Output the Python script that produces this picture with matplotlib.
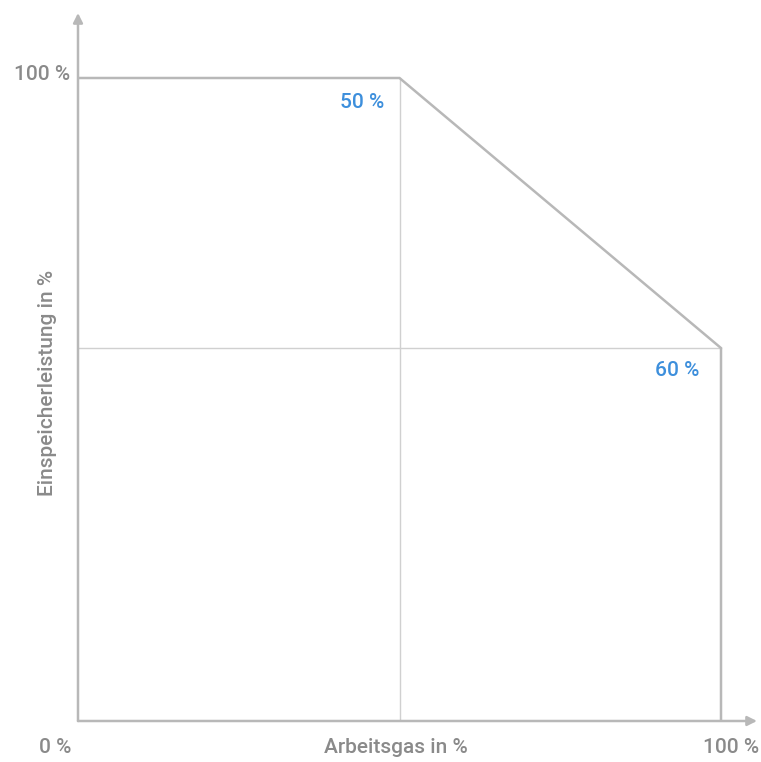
import matplotlib.pyplot as plt

plt.rcParams['font.family'] = ['Roboto', 'DejaVu Sans']

# curve: Arbeitsgas (%) vs Einspeicherleistung (%)
gas = [0, 50, 100, 100]
leistung = [100, 100, 58, 0]
knee_x = 50
knee_y = 58
lbl_50 = '50 %'
lbl_60 = '60 %'

grey = '#b8b8b8'
txt = '#8a8a8a'
blue = '#3d8fdc'

W, H = 761, 762
fig = plt.figure(figsize=(W/100, H/100), dpi=100)
x0, y0 = 78, 721           # origin in px
s = (721 - 78) / 100.0     # px per %
xe, ye = 757, 13           # arrow tips
ax = fig.add_axes([x0/W, (H-y0)/H, (xe-x0)/W, (y0-ye)/H])
ax.set_xlim(0, (xe-x0)/s)
ax.set_ylim(0, (y0-ye)/s)
ax.axis('off')

# axes with arrows
ax.annotate('', xy=((xe-x0)/s, 0), xytext=(0, 0),
            arrowprops=dict(arrowstyle='-|>', color=grey, lw=1.8, mutation_scale=14, shrinkA=0, shrinkB=0))
ax.annotate('', xy=(0, (y0-ye)/s), xytext=(0, 0),
            arrowprops=dict(arrowstyle='-|>', color=grey, lw=1.8, mutation_scale=14, shrinkA=0, shrinkB=0))

# helper lines
ax.plot([knee_x, knee_x], [0, 100], color='#d0d0d0', lw=1.0)
ax.plot([0, 100], [knee_y, knee_y], color='#d0d0d0', lw=1.0)

ax.plot(gas, leistung, color=grey, lw=1.8, solid_joinstyle='miter')

fs = 15
fw = 'medium'
ax.text(-1.3, 100.6, '100 %', ha='right', va='center', color=txt, fontsize=fs, fontweight=fw)
ax.text(-3.5, -4.1, '0 %', ha='center', va='center', color=txt, fontsize=fs, fontweight=fw)
ax.text(49.5, -4.1, 'Arbeitsgas in %', ha='center', va='center', color=txt, fontsize=fs, fontweight=fw)
ax.text(101.5, -4.1, '100 %', ha='center', va='center', color=txt, fontsize=fs, fontweight=fw, clip_on=False)
ax.text(-4.8, 52.5, 'Einspeicherleistung in %', ha='center', va='center', rotation=90, color=txt, fontsize=fs, fontweight=fw)
ax.text(47.7, 96.2, lbl_50, ha='right', va='center', color=blue, fontsize=fs, fontweight=fw)
ax.text(96.7, 54.5, lbl_60, ha='right', va='center', color=blue, fontsize=fs, fontweight=fw)

fig.savefig('out.png', dpi=100)
